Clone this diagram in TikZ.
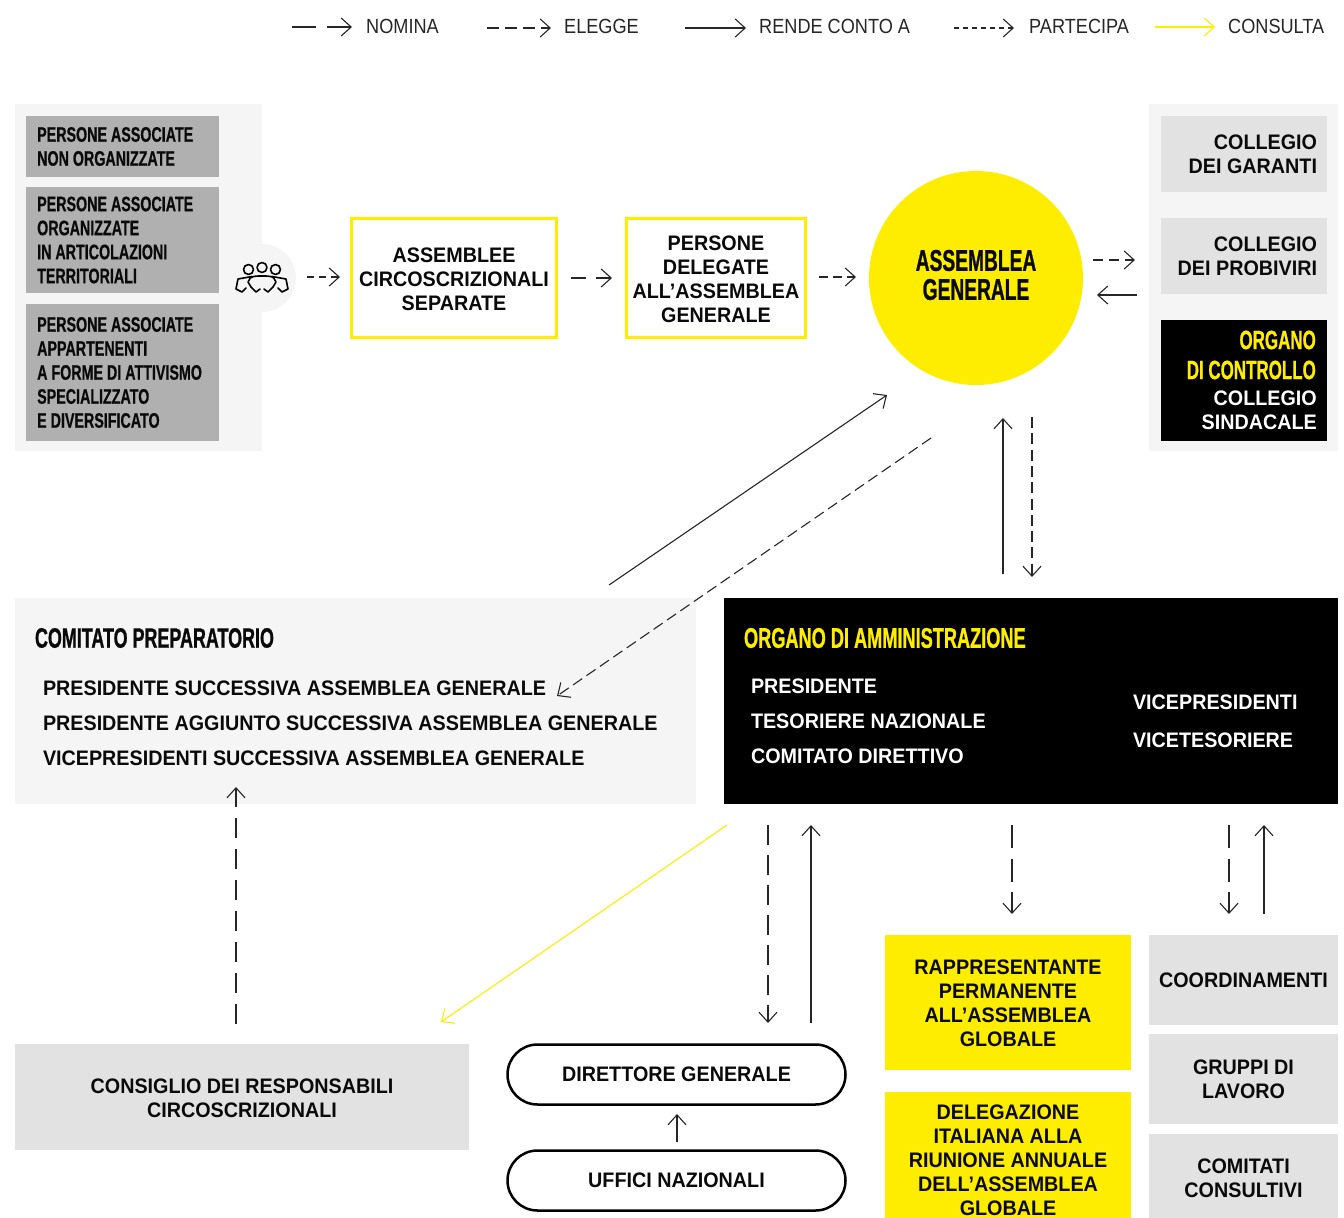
\documentclass[tikz,border=0pt]{standalone}
\usepackage{fontspec}
\usetikzlibrary{arrows.meta}
\setmainfont{Liberation Sans}
\newfontfamily\bodyfont[FakeStretch=0.94]{Liberation Sans}
\newfontfamily\legfont[FakeStretch=0.885]{Liberation Sans}
\newfontfamily\condfont[UprightFont=* Bold,FakeStretch=0.68,FakeBold=0.6]{Liberation Sans}
\newfontfamily\headfont[UprightFont=* Bold,FakeStretch=0.64,FakeBold=0.8]{Liberation Sans}
\definecolor{ayellow}{HTML}{FFED00}
\definecolor{panelgrey}{HTML}{F5F5F5}
\definecolor{midgrey}{HTML}{B0B0B0}
\definecolor{lightgrey}{HTML}{E2E2E2}
\definecolor{inkblack}{HTML}{0A0A0A}
\newcommand{\dnshift}[1]{\rule{0pt}{\dimexpr 15.3pt+#1pt+#1pt\relax}}
\tikzset{
  x=1pt,y=-1pt,
  box/.style={anchor=north west,inner sep=0pt,outer sep=0pt,align=center},
  bodytext/.style={font=\bodyfont\bfseries\fontsize{21}{24}\selectfont,text=inkblack},
  condtext/.style={font=\condfont\fontsize{21}{24}\selectfont,text=inkblack,anchor=west,inner sep=0pt,align=flush left},
  legendtext/.style={font=\legfont\fontsize{20.5}{24}\selectfont,text=black!85,anchor=west,inner sep=0pt},
  bare/.style={anchor=west,inner sep=0pt,outer sep=0pt},
  barb/.style={-{Straight Barb[length=10pt,width=18pt,line width=1.1pt]}},
  link/.style={barb,line width=1.1pt,draw=black!85},
  meddash/.style={link,dash pattern=on 12pt off 6pt},
  shortdash/.style={link,dash pattern=on 7pt off 5pt},
  tinydash/.style={link,dash pattern=on 5pt off 4pt},
  finedash/.style={link,dash pattern=on 11pt off 5.3pt},
  longdash/.style={link,dash pattern=on 20pt off 10pt},
  stepdash/.style={link,dash pattern=on 23pt off 10.5pt},
  yellowlink/.style={link,draw=ayellow},
  panel/.style={fill=panelgrey,draw=none},
  iconline/.style={draw=black,line width=1.6pt,line cap=round,line join=round},
}
\begin{document}
\begin{tikzpicture}
\useasboundingbox (0,0) rectangle (1344,1218);
\fill[white] (0,0) rectangle (1344,1218);
% panels
\fill[panel] (15,104) rectangle (262,451);
\fill[panel] (262,278) circle[radius=34];
\fill[panel] (1149,104) rectangle (1338,451);

% legend
\coordinate (l1a) at (292,27); \coordinate (l1b) at (352,27);
\coordinate (l2a) at (487,28); \coordinate (l2b) at (551,28);
\coordinate (l3a) at (685,28); \coordinate (l3b) at (746,28);
\coordinate (l4a) at (954,28); \coordinate (l4b) at (1014,28);
\coordinate (l5a) at (1155,27); \coordinate (l5b) at (1215,27);
\draw[link,dash pattern=on 24pt off 11pt] (l1a) -- (l1b);
\draw[meddash] (l2a) -- (l2b);
\draw[link] (l3a) -- (l3b);
\draw[tinydash] (l4a) -- (l4b);
\draw[yellowlink] (l5a) -- (l5b);
\node[legendtext] (tnomina) at (366,26.5) {NOMINA};
\node[legendtext] (telegge) at (564,26.5) {ELEGGE};
\node[legendtext] (trende) at (759,26.5) {RENDE CONTO A};
\node[legendtext] (tpart) at (1029,26.5) {PARTECIPA};
\node[legendtext] (tcons) at (1228,26.5) {CONSULTA};

% left grey boxes
\node[box,fill=midgrey,minimum width=193pt,minimum height=61pt] (g1) at (26,116) {};
\node[condtext] (g1t) at (37,146.5) {PERSONE ASSOCIATE\\NON ORGANIZZATE};
\node[box,fill=midgrey,minimum width=193pt,minimum height=106pt] (g2) at (26,187) {};
\node[condtext] (g2t) at (37,240) {PERSONE ASSOCIATE\\ORGANIZZATE\\IN ARTICOLAZIONI\\TERRITORIALI};
\node[box,fill=midgrey,minimum width=193pt,minimum height=137pt] (g3) at (26,304) {};
\node[condtext] (g3t) at (37,372.5) {PERSONE ASSOCIATE\\APPARTENENTI\\A FORME DI ATTIVISMO\\SPECIALIZZATO\\E DIVERSIFICATO};

% icon
\draw[iconline] (248.5,269.5) circle[radius=5] (262,267.5) circle[radius=5] (275.5,269.5) circle[radius=5];
\draw[iconline] (251,287) -- (248,282) -- (250,278.5) .. controls (251,276.5) and (256,276) .. (259,276) -- (266,276) .. controls (269,276) and (273,276.5) .. (274,278.5) -- (276,282) -- (273,287);
\draw[iconline] (252,276.5) -- (238,279) -- (236,289) -- (242,292) -- (246,288);
\draw[iconline] (272,276.5) -- (286,279) -- (288,289) -- (282,292) -- (278,288);
\draw[iconline] (251,287) -- (256,292) -- (260,289);
\draw[iconline] (273,287) -- (268,292) -- (264,289);

% top row
\node[box,draw=ayellow,line width=3pt,fill=white,bodytext,minimum width=205pt,minimum height=119pt] (ac) at (351.5,218.5) {\dnshift{0.5}ASSEMBLEE\\CIRCOSCRIZIONALI\\SEPARATE};
\node[box,draw=ayellow,line width=3pt,fill=white,bodytext,minimum width=179pt,minimum height=119pt] (pd) at (626.5,218.5) {\dnshift{1}PERSONE\\DELEGATE\\ALL’ASSEMBLEA\\GENERALE};
\fill[ayellow] (976,278) circle[radius=107];
\node[inner sep=0pt,font=\headfont\fontsize{30}{29}\selectfont,text=inkblack,align=center] (ag) at (976,275) {ASSEMBLEA\\GENERALE};

% right boxes
\node[box,fill=lightgrey,bodytext,minimum width=166pt,minimum height=76pt,text width=146pt,align=flush right] (c1) at (1161,116) {COLLEGIO\\DEI GARANTI};
\node[box,fill=lightgrey,bodytext,minimum width=166pt,minimum height=76pt,text width=146pt,align=flush right] (c2) at (1161,218) {COLLEGIO\\DEI PROBIVIRI};
\node[box,fill=black,minimum width=166pt,minimum height=121pt] (c3) at (1161,320) {};
\node[anchor=east,inner sep=0pt,font=\headfont\fontsize{26.5}{30}\selectfont,text=ayellow,align=flush right] (c3a) at (1316,355) {ORGANO\\DI CONTROLLO};
\node[anchor=east,inner sep=0pt,bodytext,text=white,align=flush right] (c3b) at (1317,410) {COLLEGIO\\SINDACALE};

% middle
\node[box,fill=panelgrey,minimum width=681pt,minimum height=206pt] (cp) at (15,598) {};
\node[bare,font=\headfont\fontsize{28}{30}\selectfont,text=inkblack] (cpt) at (35,638) {COMITATO PREPARATORIO};
\node[bare,bodytext] (cp1) at (43,688) {PRESIDENTE SUCCESSIVA ASSEMBLEA GENERALE};
\node[bare,bodytext] (cp2) at (43,723) {PRESIDENTE AGGIUNTO SUCCESSIVA ASSEMBLEA GENERALE};
\node[bare,bodytext] (cp3) at (43,758) {VICEPRESIDENTI SUCCESSIVA ASSEMBLEA GENERALE};

\node[box,fill=black,minimum width=614pt,minimum height=206pt] (oa) at (724,598) {};
\node[bare,font=\headfont\fontsize{28.4}{30}\selectfont,text=ayellow] (oat) at (744,638) {ORGANO DI AMMINISTRAZIONE};
\node[bare,bodytext,text=white] (oa1) at (751,686) {PRESIDENTE};
\node[bare,bodytext,text=white] (oa2) at (751,721) {TESORIERE NAZIONALE};
\node[bare,bodytext,text=white] (oa3) at (751,756) {COMITATO DIRETTIVO};
\node[bare,bodytext,text=white] (oa4) at (1133,702) {VICEPRESIDENTI};
\node[bare,bodytext,text=white] (oa5) at (1133,740) {VICETESORIERE};

% bottom
\node[box,fill=lightgrey,bodytext,minimum width=454pt,minimum height=106pt] (cr) at (15,1044) {\dnshift{0.5}CONSIGLIO DEI RESPONSABILI\\CIRCOSCRIZIONALI};
\node[box,draw=black,line width=2.5pt,fill=white,rounded corners=30pt,bodytext,minimum width=338pt,minimum height=60pt] (dg) at (507.5,1044.5) {DIRETTORE GENERALE};
\node[box,draw=black,line width=2.5pt,fill=white,rounded corners=30pt,bodytext,minimum width=338pt,minimum height=60pt] (un) at (507.5,1150.5) {UFFICI NAZIONALI};
\node[box,fill=ayellow,bodytext,minimum width=246pt,minimum height=135pt] (rp) at (885,935) {\dnshift{0.5}RAPPRESENTANTE\\PERMANENTE\\ALL’ASSEMBLEA\\GLOBALE};
\node[box,fill=ayellow,minimum width=246pt,minimum height=126pt] (de) at (885,1092) {};
\node[inner sep=0pt,bodytext,align=center] (det) at (1008,1160) {DELEGAZIONE\\ITALIANA ALLA\\RIUNIONE ANNUALE\\DELL’ASSEMBLEA\\GLOBALE};
\node[box,fill=lightgrey,bodytext,minimum width=189pt,minimum height=90pt] (co) at (1149,935) {COORDINAMENTI};
\node[box,fill=lightgrey,bodytext,minimum width=189pt,minimum height=90pt] (gl) at (1149,1034) {GRUPPI DI\\LAVORO};
\node[box,fill=lightgrey,bodytext,minimum width=189pt,minimum height=84pt] (cc) at (1149,1134) {\dnshift{2}COMITATI\\CONSULTIVI};

% connector ends
\coordinate (a1s) at (307,277); \coordinate (a1e) at (340,277);
\coordinate (a2s) at (571,278); \coordinate (a2e) at (612,278);
\coordinate (a3s) at (819,277); \coordinate (a3e) at (856,277);
\coordinate (a4s) at (1093,260); \coordinate (a4e) at (1135,260);
\coordinate (a5s) at (1137,295); \coordinate (a5e) at (1097,295);
\coordinate (a6s) at (609,585); \coordinate (a6e) at (887,395);
\coordinate (a7s) at (931,438); \coordinate (a7e) at (557,696);
\coordinate (a8s) at (1003,574); \coordinate (a8e) at (1003,418);
\coordinate (a9s) at (1032,417); \coordinate (a9e) at (1032,577);
\coordinate (a10s) at (236,1024); \coordinate (a10e) at (236,787);
\coordinate (a11s) at (727,825); \coordinate (a11e) at (441,1022);
\coordinate (a12s) at (768,825); \coordinate (a12e) at (768,1023);
\coordinate (a13s) at (811,1023); \coordinate (a13e) at (811,825);
\coordinate (a14s) at (1012,825); \coordinate (a14e) at (1012,914);
\coordinate (a15s) at (1229,825); \coordinate (a15e) at (1229,914);
\coordinate (a16s) at (1264,914); \coordinate (a16e) at (1264,825);
\coordinate (a17s) at (677,1142); \coordinate (a17e) at (677,1114);

\draw[shortdash] (a1s) -- (a1e);
\draw[link,dash pattern=on 15pt off 10pt] (a2s) -- (a2e);
\draw[link,dash pattern=on 9pt off 5pt] (a3s) -- (a3e);
\draw[link,dash pattern=on 10pt off 6pt] (a4s) -- (a4e);
\draw[link] (a5s) -- (a5e);
\draw[link] (a6s) -- (a6e);
\draw[finedash] (a7s) -- (a7e);
\draw[link] (a8s) -- (a8e);
\draw[finedash] (a9s) -- (a9e);
\draw[link,dash pattern=on 20pt off 11pt] (a10s) -- (a10e);
\draw[yellowlink] (a11s) -- (a11e);
\draw[longdash] (a12s) -- (a12e);
\draw[link] (a13s) -- (a13e);
\draw[stepdash] (a14s) -- (a14e);
\draw[stepdash] (a15s) -- (a15e);
\draw[link] (a16s) -- (a16e);
\draw[link] (a17s) -- (a17e);
\end{tikzpicture}
\end{document}
